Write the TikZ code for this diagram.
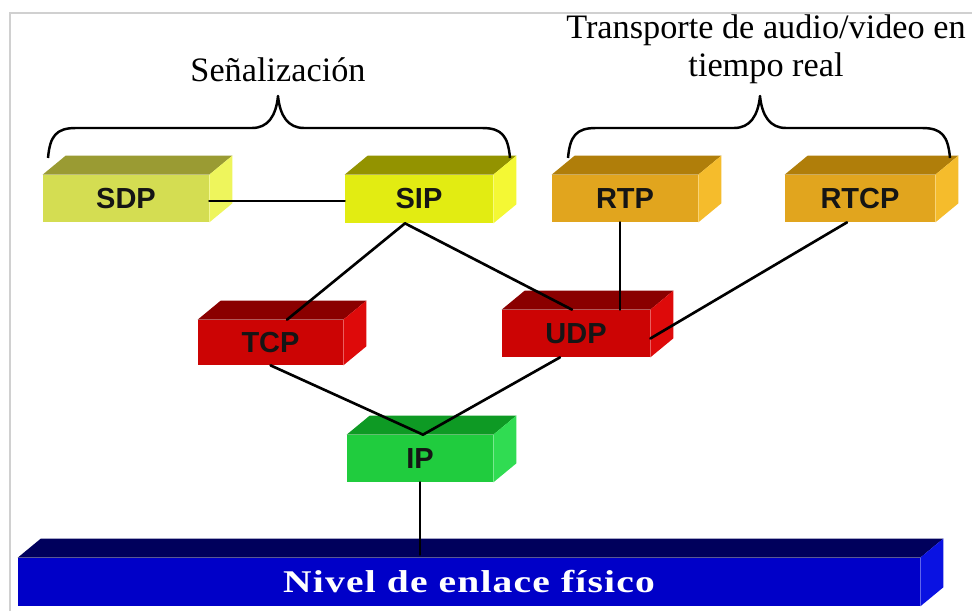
\documentclass[tikz,border=0pt]{standalone}
\usepackage{fontspec}
\setmainfont{Liberation Serif}
\setsansfont{Liberation Sans}

\definecolor{framegray}{HTML}{D0D0D0}
\definecolor{labeltext}{HTML}{151515}
\definecolor{sdp-front}{HTML}{D4DD52}
\definecolor{sdp-top}{HTML}{9A9B33}
\definecolor{sdp-side}{HTML}{EEF55C}
\definecolor{sip-front}{HTML}{E2EC12}
\definecolor{sip-top}{HTML}{939300}
\definecolor{sip-side}{HTML}{F4F834}
\definecolor{rtp-front}{HTML}{E1A51E}
\definecolor{rtp-top}{HTML}{B07E0A}
\definecolor{rtp-side}{HTML}{F5BC2C}
\definecolor{tcp-front}{HTML}{CC0404}
\definecolor{tcp-top}{HTML}{8A0000}
\definecolor{tcp-side}{HTML}{DE0A0A}
\definecolor{ip-front}{HTML}{20CC3E}
\definecolor{ip-top}{HTML}{0E9A24}
\definecolor{ip-side}{HTML}{30DC52}
\definecolor{nivel-front}{HTML}{0000C8}
\definecolor{nivel-top}{HTML}{00005C}
\definecolor{nivel-side}{HTML}{0A12E2}

\tikzset{
  layer/.style={inner sep=0pt, minimum height=0.94cm, text=labeltext,
    font=\sffamily\bfseries\fontsize{16.5}{19}\selectfont},
  link/.style={line width=1.5pt, line cap=round},
  brace/.style={line width=1.4pt, line join=round},
  grouptext/.style={font=\fontsize{19.5}{21.5}\selectfont, align=center}
}

\begin{document}
\begin{tikzpicture}[x=0.02cm,y=-0.02cm]
\useasboundingbox[fill=white] (0,0) rectangle (972,611);
\draw[framegray, line width=1.5pt] (10,611) -- (10,13) -- (972,13);

% front faces
\node[layer, fill=sdp-front, minimum width=3.32cm] (sdp) at (126,198.5) {SDP};
\node[layer, fill=sip-front, minimum width=2.96cm, minimum height=0.96cm] (sip) at (419,199) {SIP};
\node[layer, fill=rtp-front, minimum width=2.92cm] (rtp) at (625,198.5) {RTP};
\node[layer, fill=rtp-front, minimum width=3.0cm] (rtcp) at (860,198.5) {RTCP};
\node[layer, fill=tcp-front, minimum width=2.9cm, minimum height=0.9cm] (tcp) at (270.5,342.5) {TCP};
\node[layer, fill=tcp-front, minimum width=2.96cm] (udp) at (576,333.5) {UDP};
\node[layer, fill=ip-front, minimum width=2.92cm] (ip) at (420,458.5) {IP};
\node[layer, fill=nivel-front, minimum width=18.04cm, minimum height=0.96cm, text=white,
  font=\bfseries\fontsize{18}{20}\selectfont\addfontfeatures{LetterSpace=3}] (nivel) at (469,582)
  {\scalebox{1.25}[1]{Nivel de enlace físico}};

% top and side faces
\foreach \n/\c in {sdp/sdp, sip/sip, rtp/rtp, rtcp/rtp, tcp/tcp, udp/tcp, ip/ip, nivel/nivel} {
  \fill[\c-top] (\n.north west) -- (\n.north east) -- ++(23,-19)
    -- ([shift={(23,-19)}]\n.north west) -- cycle;
  \fill[\c-side] (\n.north east) -- (\n.south east) -- ++(23,-19)
    -- ([shift={(23,-19)}]\n.north east) -- cycle;
}

% links
\coordinate (sipbot) at ([xshift=-0.28cm]sip.south);
\coordinate (iptop) at ([xshift=0.06cm]ip.north);
\draw[link] ([yshift=-0.05cm]sdp.east) -- ([yshift=-0.05cm]sdp.east -| sip.west);
\draw[link] (sipbot) -- ([xshift=0.33cm]tcp.north);
\draw[link] (sipbot) -- ([xshift=-0.08cm]udp.north);
\draw[link] ([xshift=-0.1cm]rtp.south) -- ([xshift=-0.1cm]rtp.south |- udp.north);
\draw[link] ([xshift=-0.26cm]rtcp.south) -- ([yshift=-0.1cm]udp.east);
\draw[link] (tcp.south) -- (iptop);
\draw[link] ([xshift=-0.32cm]udp.south) -- (iptop);
\draw[link] (ip.south) -- ([yshift=0.06cm]ip.south |- nivel.north);

% braces
\draw[brace] (48,158) .. controls (50,136) and (56,128) .. (76,128) -- (252,128)
  .. controls (268,128) and (276,116) .. (278,96)
  .. controls (280,116) and (288,128) .. (304,128) -- (482,128)
  .. controls (502,128) and (508,136) .. (510,158);
\draw[brace] (568,158) .. controls (570,136) and (576,128) .. (596,128) -- (734,128)
  .. controls (750,128) and (758,116) .. (760,96)
  .. controls (762,116) and (770,128) .. (786,128) -- (922,128)
  .. controls (942,128) and (948,136) .. (950,158);

\node[grouptext] (senal) at (278,70) {Señalización};
\node[grouptext] (transp) at (766,49) {Transporte de audio/video en\\tiempo real};
\end{tikzpicture}
\end{document}
